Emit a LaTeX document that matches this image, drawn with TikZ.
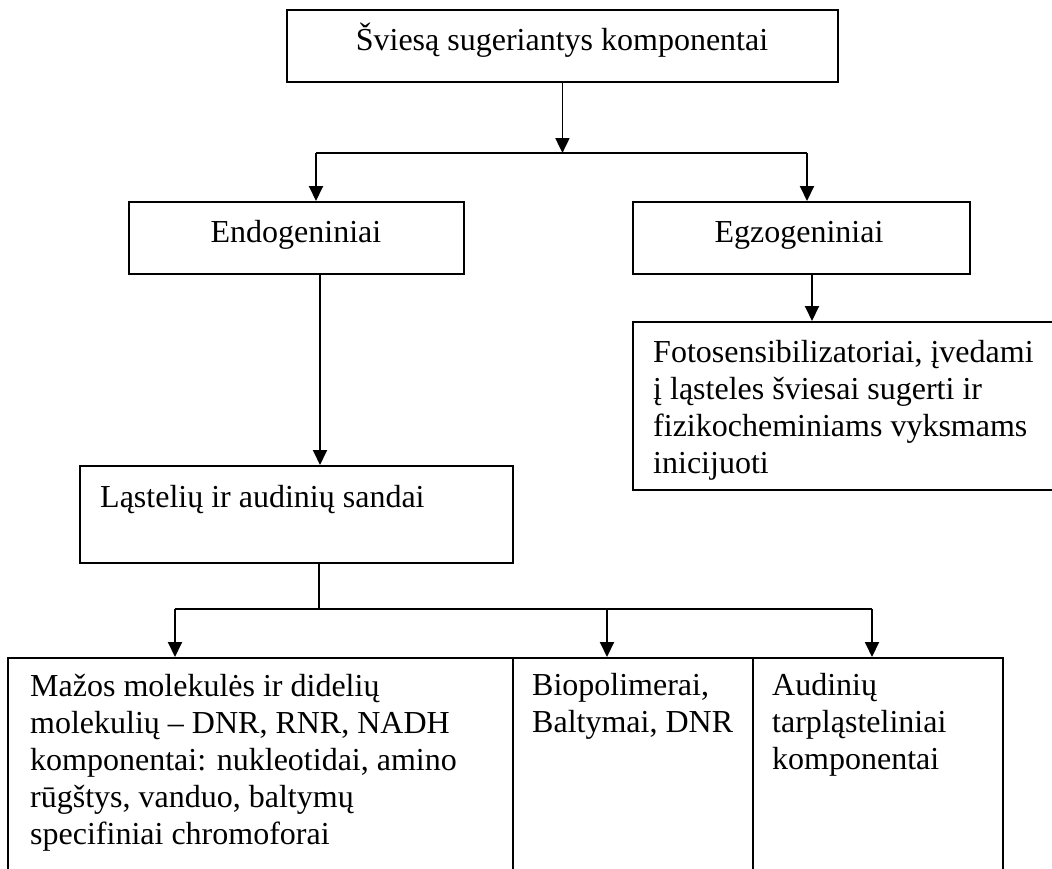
\documentclass[tikz,border=0pt]{standalone}
\usepackage{fontspec}
\setmainfont{Liberation Serif}
\usetikzlibrary{arrows.meta}
\begin{document}
\begin{tikzpicture}[x=1pt,y=-1pt,
  box/.style={draw,line width=1.9pt,rectangle,inner sep=0pt,anchor=north west},
  txt/.style={inner sep=0pt,font=\fontsize{32}{37}\selectfont,align=left},
  con/.style={line width=1.9pt},
  arr/.style={con,-{Triangle[length=15pt,width=14pt]}}]
\useasboundingbox (0,0) rectangle (1052,868);
\clip (0,0) rectangle (1052,868);
% boxes
\node[box,minimum width=551pt,minimum height=72pt] (top) at (286,9) {};
\node[box,minimum width=335pt,minimum height=72pt] (endo) at (128,201) {};
\node[box,minimum width=337pt,minimum height=72pt] (egzo) at (632,201) {};
\node[box,minimum width=440pt,minimum height=168pt] (foto) at (632,321) {};
\node[box,minimum width=433pt,minimum height=97pt] (last) at (79,465) {};
\node[box,minimum width=505pt,minimum height=260pt] (b1) at (7,657) {};
\node[box,minimum width=240pt,minimum height=260pt] (b2) at (512,657) {};
\node[box,minimum width=250pt,minimum height=260pt] (b3) at (752,657) {};
% texts (base anchor = baseline of the last line)
\node[txt,anchor=base] (topT) at (562,50) {Šviesą sugeriantys komponentai};
\node[txt,anchor=base] (endoT) at (296,242) {Endogeniniai};
\node[txt,anchor=base] (egzoT) at (799,242) {Egzogeniniai};
\node[txt,anchor=base west] (fotoT) at (653,473) {Fotosensibilizatoriai, įvedami\\į ląsteles šviesai sugerti ir\\fizikocheminiams vyksmams\\inicijuoti};
\node[txt,anchor=base west] (lastT) at (100,507) {Ląstelių ir audinių sandai};
\node[txt,anchor=base west] (b1T) at (30,844) {Mažos molekulės ir didelių\\molekulių – DNR, RNR, NADH\\komponentai: nukleotidai, amino\\rūgštys, vanduo, baltymų\\specifiniai chromoforai};
\node[txt,anchor=base west] (b2T) at (532,732) {Biopolimerai,\\Baltymai, DNR};
\node[txt,anchor=base west] (b3T) at (772,769) {Audinių\\tarpląsteliniai\\komponentai};
% connectors
\coordinate (jL) at (316,153);
\coordinate (jR) at (807,153);
\draw[arr] (top.south) -- (top.south |- jL);
\draw[con] (jL) -- (jR);
\draw[arr] (jL) -- (jL |- endo.north);
\draw[arr] (jR) -- (jR |- egzo.north);
\coordinate (eL) at (320,0);
\coordinate (eR) at (812,0);
\draw[arr] (endo.south -| eL) -- (last.north -| eL);
\draw[arr] (egzo.south -| eR) -- (foto.north -| eR);
\coordinate (lS) at (319,609);
\coordinate (bL) at (175,609);
\coordinate (bM) at (607,609);
\coordinate (bR) at (872,609);
\draw[con] (last.south -| lS) -- (lS);
\draw[con] (bL) -- (bR);
\draw[arr] (bL) -- (bL |- b1.north);
\draw[arr] (bM) -- (bM |- b2.north);
\draw[arr] (bR) -- (bR |- b3.north);
\end{tikzpicture}
\end{document}
